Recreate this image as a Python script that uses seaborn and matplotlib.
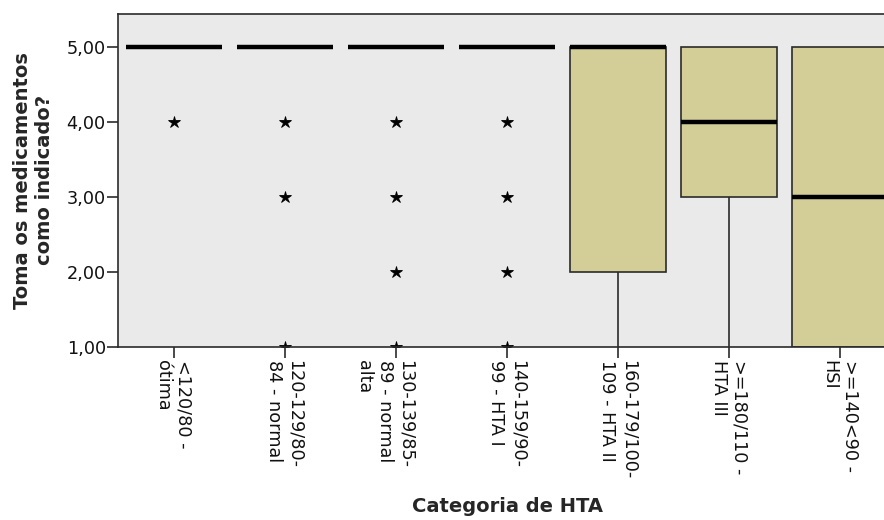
import matplotlib
matplotlib.use("Agg")
import matplotlib.pyplot as plt
import matplotlib.transforms as mtransforms
import seaborn as sns
import pandas as pd

BOX_COLOR = "#D3CD97"
BG_COLOR = "#EAEAEA"
EDGE = "#2B2B2B"

categories = [
    "<120/80 -\nótima",
    "120-129/80-\n84 - normal",
    "130-139/85-\n89 - normal\nalta",
    "140-159/90-\n99 - HTA I",
    "160-179/100-\n109 - HTA II",
    ">=180/110 -\nHTA III",
    ">=140<90 -\nHSI",
]

otima = [5] * 20 + [4]
normal = [5] * 20 + [4, 3, 1]
normal_alta = [5] * 20 + [4, 3, 2, 1]
hta_1 = [5] * 20 + [4, 3, 2, 1]
hta_2 = [1, 1, 2, 2, 2, 3, 4, 5, 5, 5, 5, 5, 5, 5, 5, 5, 5]
hta_3 = [1, 3, 3, 4, 4, 4, 5, 5, 5]
hsi = [1, 1, 1, 2, 3, 4, 5, 5, 5]

yticks = [1, 2, 3, 4, 5]
ytick_labels = ["1,00", "2,00", "3,00", "4,00", "5,00"]

groups = [otima, normal, normal_alta, hta_1, hta_2, hta_3, hsi]
df = pd.DataFrame({
    "cat": [c for c, g in zip(categories, groups) for _ in g],
    "val": [v for g in groups for v in g],
})

sns.set_style("ticks")
plt.rcParams["font.family"] = ["DejaVu Sans"]

fig = plt.figure(figsize=(8.84, 5.2), dpi=100)
ax = fig.add_axes([118.3 / 884, 1 - 347.3 / 520, (896 - 118.3) / 884, (347.3 - 13.5) / 520])
ax.set_facecolor(BG_COLOR)

sns.boxplot(
    data=df, x="cat", y="val", order=categories, ax=ax,
    color=BOX_COLOR, saturation=1, width=0.865, linecolor=EDGE, linewidth=1.2,
    showcaps=False,
    medianprops=dict(color="black", linewidth=3.2),
    flierprops=dict(marker="*", markerfacecolor="black", markeredgecolor="black",
                    markersize=9, markeredgewidth=0.6),
)

ax.set_xlim(-0.5, 6.5)
ax.set_ylim(1, 5.45)
ax.set_yticks(yticks)
ax.set_yticklabels(ytick_labels)

ax.tick_params(axis="both", length=8, width=1.2, color=EDGE, labelsize=12.7, pad=1,
               labelcolor="#111111")

ax.set_xticks(range(len(categories)))
ax.set_xticklabels(categories, rotation=-90, ha="right", va="top", multialignment="left")
# first line of every label sits just right of its tick (like the SPSS output)
offset = mtransforms.ScaledTranslation(19 / 100, 0, fig.dpi_scale_trans)
for lbl in ax.get_xticklabels():
    lbl.set_transform(lbl.get_transform() + offset)

for side in ["left", "bottom", "top"]:
    ax.spines[side].set_color(EDGE)
    ax.spines[side].set_linewidth(1.2)
ax.spines["right"].set_visible(False)

ax.set_ylabel("Toma os medicamentos\ncomo indicado?", fontsize=14, fontweight="bold", labelpad=9)
ax.set_xlabel("Categoria de HTA", fontsize=14, fontweight="bold", labelpad=13)

fig.savefig("out.png", dpi=100)
